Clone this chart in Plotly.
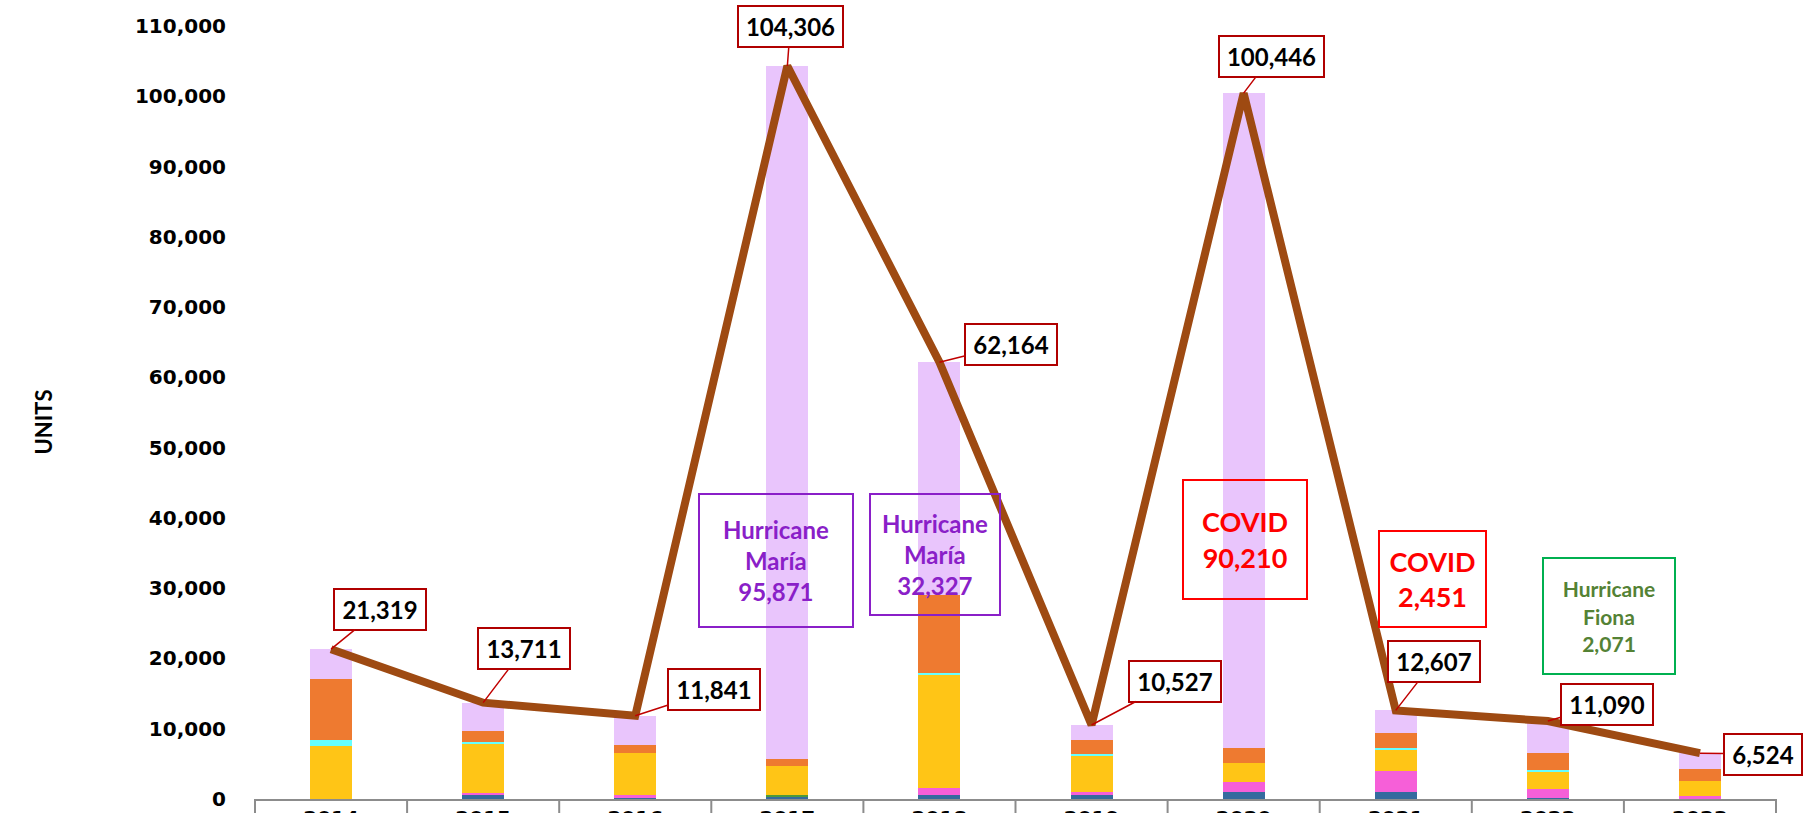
import plotly.graph_objects as go

years = ["2014", "2015", "2016", "2017", "2018", "2019", "2020", "2021", "2022", "2023"]
totals = [21319, 13711, 11841, 104306, 62164, 10527, 100446, 12607, 11090, 6524]

blue     = [0, 650, 250, 350, 620, 620, 1000, 1000, 200, 0]
green    = [0, 0, 0, 180, 0, 0, 0, 0, 0, 0]
pink     = [0, 180, 250, 0, 950, 380, 1420, 3000, 1220, 480]
yellow   = [7600, 7000, 6050, 4170, 16080, 5250, 2700, 3030, 2520, 2090]
cyan     = [800, 330, 0, 0, 330, 100, 0, 240, 230, 0]
orange   = [8680, 1520, 1130, 1000, 11050, 2050, 2140, 2140, 2380, 1700]
lavender = [4239, 4031, 4161, 98606, 33134, 2127, 93186, 3197, 4540, 2254]

events = [
    ("Hurricane<br>María<br>95,871", "#8A1FC8", "#8A1FC8"),
    ("Hurricane<br>María<br>32,327", "#8A1FC8", "#8A1FC8"),
    ("COVID<br>90,210", "#FF0000", "#FF0000"),
    ("COVID<br>2,451", "#FF0000", "#FF0000"),
    ("Hurricane<br>Fiona<br>2,071", "#548235", "#00B050"),
]

# ---- layout / style (not data) ----
W, H = 1811, 813
ML, MR, MT, MB = 255, 35, 26, 14
segments = [
    (blue, "#356A9E"), (green, "#4E9A3A"), (pink, "#F65FD8"), (yellow, "#FFC516"),
    (cyan, "#66FFFF"), (orange, "#EE7A30"), (lavender, "#E9C5FC"),
]
label_offsets = [(49, -40), (41, -54), (79, -26), (3, -40), (72, -18),
                 (83, -44), (28, -37), (38, -49), (59, -17), (63, 1)]
label_sizes = [86, 86, 86, 99, 86, 86, 99, 86, 86, 72]
# event boxes: (x in category units, y in data units, width, height, font size)
event_pos = [(2.925, 33900, 148, 127, 24), (3.971, 34800, 124, 115, 24),
             (6.009, 36900, 118, 113, 27), (7.242, 31300, 101, 90, 27),
             (8.402, 26000, 126, 110, 21)]

fig = go.Figure()
for vals, col in segments:
    fig.add_trace(go.Bar(x=years, y=vals, marker=dict(color=col, line=dict(width=0)),
                         showlegend=False, hoverinfo="skip"))

fig.add_trace(go.Scatter(x=years, y=totals, mode="lines",
                         line=dict(color="#9E4A12", width=8), showlegend=False))

annotations = []
for i, v in enumerate(totals):
    ax, ay = label_offsets[i]
    annotations.append(dict(
        x=i, y=v, xref="x", yref="y", text=f"{v:,}",
        showarrow=True, arrowhead=0, arrowwidth=1.5, arrowcolor="#C00000",
        ax=ax, ay=ay, standoff=0,
        bordercolor="#B00000", borderwidth=2, borderpad=2, bgcolor="white",
        width=label_sizes[i], height=35,
        font=dict(family="Lato", size=24, color="black", weight="bold"),
    ))

for (txt, tcol, bcol), (ex, ey, w, h, fs) in zip(events, event_pos):
    annotations.append(dict(
        x=ex, y=ey, xref="x", yref="y", text=txt, showarrow=False,
        bordercolor=bcol, borderwidth=2, borderpad=2, bgcolor="rgba(0,0,0,0)",
        width=w, height=h, align="center", valign="middle",
        font=dict(family="Lato", size=fs, color=tcol, weight="bold"),
    ))

annotations.append(dict(
    x=(28 - ML) / (W - ML - MR), y=(H - MB - 422) / (H - MT - MB), xref="paper", yref="paper",
    text="UNITS", textangle=-90, showarrow=False,
    font=dict(family="Lato", size=22, color="black", weight="bold"),
))

N = len(years)
shapes = []
for i in range(N + 1):
    shapes.append(dict(type="line", xref="paper", yref="paper",
                       x0=i / N, x1=i / N, y0=0, y1=-0.06,
                       line=dict(color="#8C8C8C", width=2)))

fig.update_layout(
    width=W, height=H, barmode="stack", bargap=0.724,
    margin=dict(l=ML, r=MR, t=MT, b=MB, autoexpand=False),
    plot_bgcolor="white", paper_bgcolor="white",
    annotations=annotations, shapes=shapes,
    xaxis=dict(type="category", showgrid=False, showline=True, linecolor="#8C8C8C",
               linewidth=2, ticks="", automargin=False,
               tickfont=dict(family="DejaVu Sans", size=20, color="black", weight="bold"),
               range=[-0.5, N - 0.5], fixedrange=True),
    yaxis=dict(range=[0, 110000], dtick=10000, tickformat=",", showgrid=False,
               zeroline=False, showline=False, ticks="outside", ticklen=24,
               tickcolor="rgba(0,0,0,0)", automargin=False,
               tickfont=dict(family="DejaVu Sans", size=20, color="black", weight="bold")),
)

fig.write_html("out.html")
